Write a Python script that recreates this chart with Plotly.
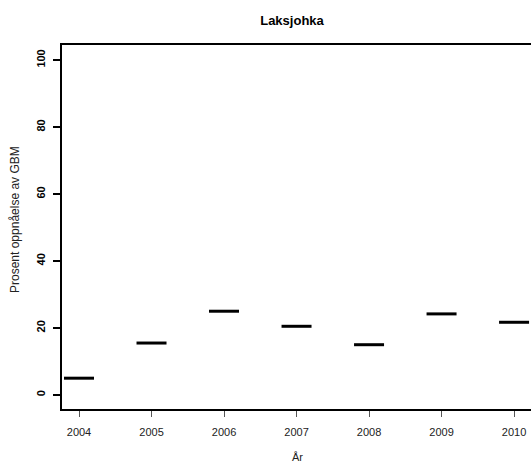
import plotly.graph_objects as go

# median values per year (boxplot with one observation per year)
years = [2004, 2005, 2006, 2007, 2008, 2009, 2010]
median_pct = [5.0, 15.5, 25.0, 20.5, 15.0, 24.2, 21.7]
y_ticks = [0, 20, 40, 60, 80, 100]

# the original plot box runs past the right edge of the window, so the
# figure is a little wider than the 531px page and the overflow is hidden
W, H = 540, 462
L, R, T, B = 62, 0, 45, 53
plot_w = W - L - R
plot_h = H - T - B
px_per_year = 72.51
x_range = [2004 - (79 - L) / px_per_year, 2004 - (79 - L) / px_per_year + plot_w / px_per_year]

fig = go.Figure()
fig.add_trace(go.Scatter(
    x=years, y=median_pct, mode='markers',
    # line-ew is drawn 1.4 * size wide
    marker=dict(symbol='line-ew', size=30 / 1.4, line=dict(width=3, color='black')),
    showlegend=False, hoverinfo='x+y'))

font = 'Liberation Sans, Arial, Helvetica, sans-serif'
fig.update_layout(
    width=W, height=H,
    margin=dict(l=L, r=R, t=T, b=B, autoexpand=False),
    paper_bgcolor='white', plot_bgcolor='white',
    font=dict(family=font, color='black', size=11),
    title=dict(text='<b>Laksjohka</b>', x=292 / W, xanchor='center', xref='container',
               y=1 - 20 / H, yanchor='middle', yref='container',
               font=dict(size=13, family=font, color='black')),
    annotations=[
        dict(text='År', x=(297 - L) / plot_w, y=-(457 - (H - B)) / plot_h,
             xref='paper', yref='paper',
             showarrow=False, xanchor='center', yanchor='middle',
             font=dict(size=11, color='#222')),
        dict(text='Prosent oppnåelse av GBM', x=-(L - 15) / plot_w, y=(H - B - 220) / plot_h,
             xref='paper', yref='paper', textangle=-90, showarrow=False,
             xanchor='center', yanchor='middle', font=dict(size=12, color='#222')),
    ],
)
fig.update_xaxes(
    range=x_range, tickvals=years, ticktext=[str(y) for y in years],
    showline=True, linecolor='black', linewidth=2, mirror=True,
    ticks='outside', ticklen=6, tickwidth=1, tickcolor='#555',
    showgrid=False, zeroline=False, tickfont=dict(size=11, color='#222'),
    automargin=False, ticklabelstandoff=6,
)
fig.update_yaxes(
    range=[-4.2, 104.5], tickvals=y_ticks, tickangle=-90,
    ticktext=['<b>%d</b>' % v for v in y_ticks],
    showline=True, linecolor='black', linewidth=2, mirror=False,
    ticks='outside', ticklen=7, tickwidth=2, tickcolor='black',
    showgrid=False, zeroline=False, tickfont=dict(size=11, color='black'),
    automargin=False, ticklabelstandoff=4,
)

# drop the default body margin and hide the overflow past the window
fig.write_html('out.html', config={'displayModeBar': False},
               post_script="document.body.style.margin='0';"
                           "document.body.style.overflow='hidden';"
                           "document.documentElement.style.overflow='hidden';")
